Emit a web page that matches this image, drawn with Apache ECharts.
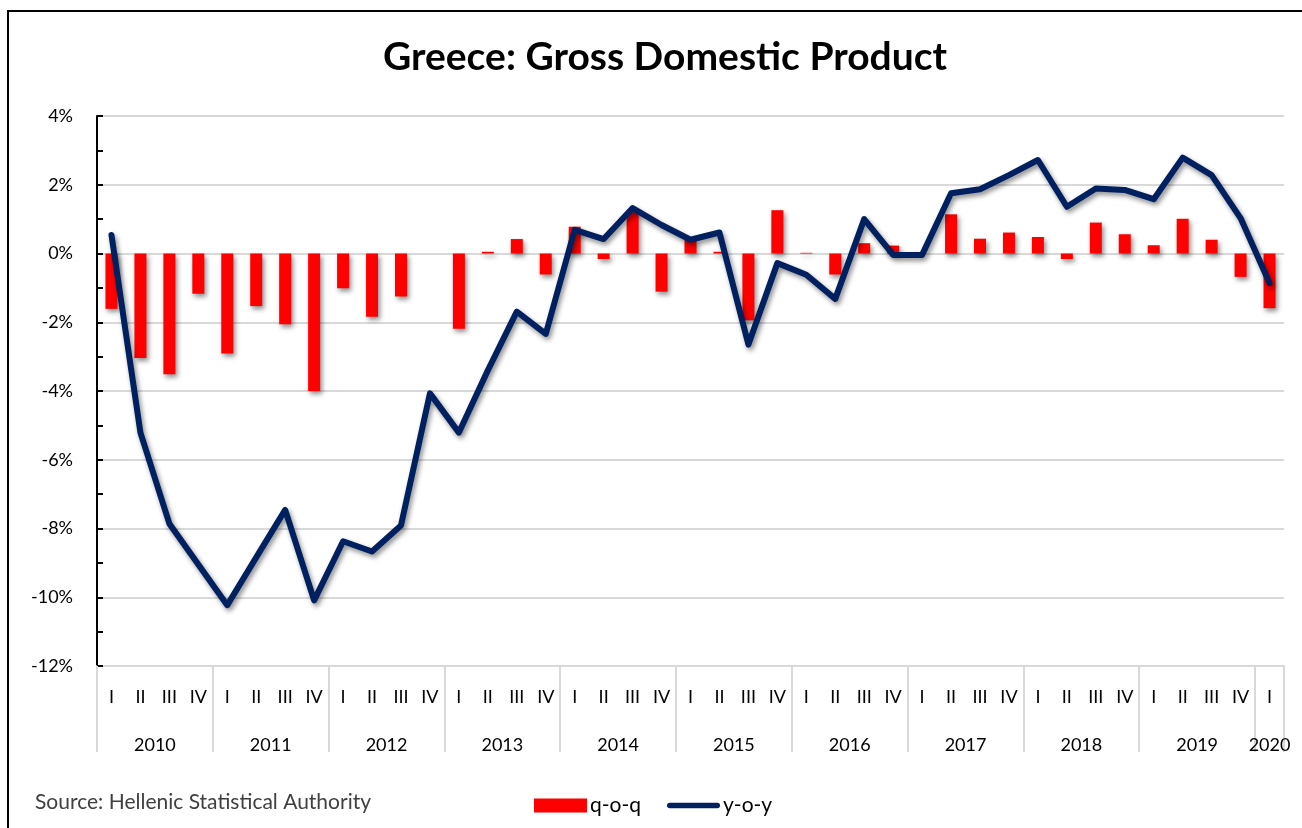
<!DOCTYPE html>
<html>
<head>
<meta charset="utf-8">
<script src="https://cdn.jsdelivr.net/npm/echarts@6/dist/echarts.min.js"></script>
<style>
html,body{margin:0;padding:0;background:#fff;}
#chart{width:1302px;height:828px;}
</style>
</head>
<body>
<div id="chart"></div>
<script>
var quarters = ['I','II','III','IV','I','II','III','IV','I','II','III','IV','I','II','III','IV','I','II','III','IV','I','II','III','IV','I','II','III','IV','I','II','III','IV','I','II','III','IV','I','II','III','IV','I'];
var years = ['2010','2011','2012','2013','2014','2015','2016','2017','2018','2019','2020'];
var qoq = [-1.61,-3.04,-3.51,-1.17, -2.91,-1.53,-2.06,-4.0, -1.01,-1.84,-1.25,0.0, -2.19,0.05,0.42,-0.61, 0.78,-0.16,1.25,-1.11, 0.40,0.05,-1.94,1.26, 0.02,-0.61,0.30,0.23, 0.0,1.14,0.43,0.61, 0.48,-0.16,0.90,0.56, 0.24,1.01,0.40,-0.68, -1.59];
var yoy = [0.54,-5.21,-7.86,-9.05, -10.23,-8.84,-7.46,-10.09, -8.37,-8.67,-7.91,-4.07, -5.21,-3.4,-1.69,-2.34, 0.69,0.42,1.32,0.83, 0.40,0.61,-2.65,-0.28, -0.62,-1.32,1.0,-0.04, -0.04,1.75,1.87,2.28, 2.72,1.36,1.89,1.85, 1.58,2.79,2.28,1.03, -0.86];
var yTicks = [-12,-10,-8,-6,-4,-2,0,2,4];

var FONT = 'Lato';
var chart = echarts.init(document.getElementById('chart'));

function yearLabel(v) {
  var n = quarters.length;
  for (var i = 0; i < years.length; i++) {
    var start = i * 4;
    var end = Math.min(start + 4, n);
    var mid = (start + end) / 2;
    if (Math.abs(v - mid) < 1e-6) return years[i];
  }
  return '';
}

var lineIcon = 'path://M3,0 L54,0 A3,3 0 0 1 54,6 L3,6 A3,3 0 0 1 3,0 Z';

var option = {
  animation: false,
  backgroundColor: '#ffffff',
  textStyle: {fontFamily: FONT},
  title: {
    text: 'Greece: Gross Domestic Product',
    left: 660,
    textAlign: 'center',
    top: 33,
    textStyle: {fontFamily: FONT, fontSize: 39, fontWeight: 'bold', color: '#000'}
  },
  legend: {
    left: 529,
    top: 790,
    itemWidth: 53,
    itemHeight: 14,
    itemGap: 26,
    textStyle: {fontFamily: FONT, fontSize: 21, color: '#000', padding: [0,0,0,-2]},
    data: [
      {name: 'q-o-q', icon: 'rect'},
      {name: 'y-o-y', icon: lineIcon, itemStyle: {color: '#002060'}}
    ]
  },
  graphic: [
    {type: 'rect', shape: {x: 8, y: 11, width: 1400, height: 900}, style: {fill: 'none', stroke: '#000', lineWidth: 2}, silent: true},
    {type: 'text', left: 35, top: 792, style: {text: 'Source: Hellenic Statistical Authority', fontFamily: FONT, fontSize: 21, fill: '#404040'}}
  ],
  grid: {left: 97, right: 18, top: 116, bottom: 162, containLabel: false},
  xAxis: [
    {
      type: 'category',
      data: quarters,
      boundaryGap: true,
      position: 'bottom',
      axisLine: {show: true, onZero: false, lineStyle: {color: '#d9d9d9', width: 2}},
      axisTick: {show: true, length: 86, interval: function (i) { return i % 4 === 0; }, lineStyle: {color: '#d9d9d9', width: 2}},
      axisLabel: {interval: 0, margin: 22, fontFamily: FONT, fontSize: 18, color: '#000'},
      splitLine: {show: false}
    },
    {
      type: 'value',
      min: 0,
      max: quarters.length,
      interval: 0.5,
      position: 'bottom',
      axisLine: {show: false, onZero: false},
      axisTick: {show: false},
      splitLine: {show: false},
      axisLabel: {show: true, margin: 70, fontFamily: FONT, fontSize: 18, color: '#000', showMinLabel: true, showMaxLabel: true, formatter: yearLabel}
    }
  ],
  yAxis: {
    type: 'value',
    min: yTicks[0],
    max: yTicks[yTicks.length - 1],
    interval: 2,
    axisLine: {show: true, lineStyle: {color: '#000', width: 2}},
    axisTick: {show: true, inside: true, length: 6, lineStyle: {color: '#000', width: 2}},
    minorTick: {show: true, splitNumber: 2, length: 6, lineStyle: {color: '#000', width: 2}},
    splitLine: {show: true, lineStyle: {color: '#d9d9d9', width: 2}},
    axisLabel: {margin: 24, fontFamily: FONT, fontSize: 18, color: '#000', formatter: function (v) { return v + '%'; }}
  },
  series: [
    {
      name: 'q-o-q',
      type: 'bar',
      xAxisIndex: 0,
      data: qoq,
      barWidth: 12,
      itemStyle: {color: '#ff0000', shadowBlur: 5, shadowColor: 'rgba(0,0,0,0.45)', shadowOffsetX: 2, shadowOffsetY: 3}
    },
    {
      name: 'y-o-y',
      type: 'line',
      xAxisIndex: 0,
      data: yoy,
      symbol: 'none',
      showSymbol: false,
      lineStyle: {color: '#002060', width: 6, cap: 'round', join: 'round', shadowBlur: 5, shadowColor: 'rgba(0,0,0,0.45)', shadowOffsetX: 2, shadowOffsetY: 3},
      itemStyle: {color: '#002060'},
      z: 3
    }
  ]
};
chart.setOption(option);
</script>
</body>
</html>
